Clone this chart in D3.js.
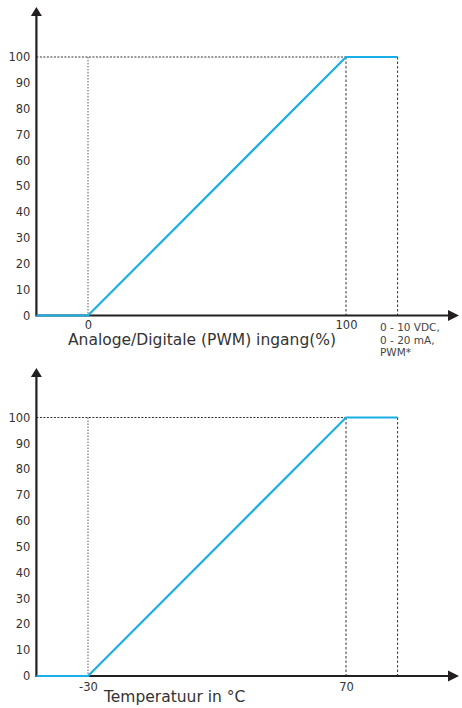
<!DOCTYPE html>
<html><head><meta charset="utf-8">
<script src="https://cdn.jsdelivr.net/npm/d3@7"></script>
<style>
html,body{margin:0;padding:0;background:#fff;}
svg{display:block;font-family:"DejaVu Sans",Verdana,sans-serif;}
</style></head>
<body>
<svg id="chart" width="462" height="708"></svg>
<script>
// ---- data ----
const yTicks = [0,10,20,30,40,50,60,70,80,90,100];
const inputX = [-20, 0, 100, 120];
const inputY = [0, 0, 100, 100];
const inputTicks = [0, 100];
const inputTitle = "Analoge/Digitale (PWM) ingang(%)";
const inputNote = ["0 - 10 VDC,", "0 - 20 mA,", "PWM*"];
const tempX = [-50, -30, 70, 90];
const tempY = [0, 0, 100, 100];
const tempTicks = [-30, 70];
const tempTitle = "Temperatuur in °C";

const svg = d3.select("#chart");
const axisColor = "#231f20";
const blue = "#1aaee6";
const FONT = '"DejaVu Sans",Verdana,sans-serif';

function panel(cfg){
  const g = svg.append("g");
  const x = d3.scaleLinear().domain(cfg.xDomain).range([88, 346]);
  const y = d3.scaleLinear().domain([0,100]).range([cfg.y0, cfg.y0 - 258.5]);
  const xs = cfg.xs, ys = cfg.ys;
  const xMin = x(xs[0]), xEnd = x(xs[xs.length-1]);

  // guide lines
  g.append("line").attr("x1", x(xs[1])).attr("x2", x(xs[1]))
    .attr("y1", y(100)).attr("y2", y(0))
    .attr("stroke", "#777").attr("stroke-width", 1.2).attr("stroke-dasharray", "1.5,1.5");
  g.append("line").attr("x1", xMin).attr("x2", xEnd)
    .attr("y1", y(100)).attr("y2", y(100))
    .attr("stroke", "#333").attr("stroke-width", 1).attr("stroke-dasharray", "2,1.5");
  [xs[2], xs[3]].forEach(v=>{
    g.append("line").attr("x1", x(v)).attr("x2", x(v))
      .attr("y1", y(100)).attr("y2", y(0))
      .attr("stroke", "#333").attr("stroke-width", 1).attr("stroke-dasharray", "2.5,2");
  });

  // axes lines with arrows
  g.append("line").attr("x1", xMin).attr("x2", 450).attr("y1", y(0)).attr("y2", y(0))
    .attr("stroke", axisColor).attr("stroke-width", 2.2);
  g.append("path").attr("d", `M${459},${y(0)} L${448},${y(0)-5.5} L${448},${y(0)+5.5} Z`).attr("fill", axisColor);
  g.append("line").attr("x1", xMin).attr("x2", xMin).attr("y1", y(0)+1).attr("y2", cfg.arrowTop+6)
    .attr("stroke", axisColor).attr("stroke-width", 2.2);
  g.append("path").attr("d", `M${xMin},${cfg.arrowTop} L${xMin-5.5},${cfg.arrowTop+9} L${xMin+5.5},${cfg.arrowTop+9} Z`).attr("fill", axisColor);

  // y tick labels
  const ya = g.append("g").attr("transform", `translate(${xMin},0)`)
    .call(d3.axisLeft(y).tickValues(yTicks).tickSize(0).tickPadding(6).tickFormat(d=>String(d)));
  ya.select(".domain").remove();
  ya.selectAll("text").attr("font-size", 11.5).attr("fill", "#333").style("font-family", FONT);

  // x tick labels
  const xa = g.append("g").attr("transform", `translate(0,${y(0)})`)
    .call(d3.axisBottom(x).tickValues(cfg.ticks).tickSize(0).tickPadding(cfg.tickPad).tickFormat(d=>String(d)));
  xa.select(".domain").remove();
  xa.selectAll("text").attr("font-size", 11.5).attr("fill", "#333").style("font-family", FONT);

  // data line
  const line = d3.line().x((d,i)=>x(xs[i])).y((d,i)=>y(ys[i]));
  g.append("path").datum(xs).attr("d", line)
    .attr("fill", "none").attr("stroke", blue).attr("stroke-width", 2.2);

  // title
  g.append("text").attr("x", cfg.titleX).attr("y", cfg.titleY)
    .attr("font-size", 15.5).attr("fill", "#333").text(cfg.title);
  return {x, y};
}

panel({xDomain:[0,100], xs:inputX, ys:inputY, y0:315.5, arrowTop:7, ticks:inputTicks, tickPad:5,
       title:inputTitle, titleX:68, titleY:345});
panel({xDomain:[-30,70], xs:tempX, ys:tempY, y0:676, arrowTop:368, ticks:tempTicks, tickPad:7,
       title:tempTitle, titleX:104, titleY:702});

svg.append("g").selectAll("text").data(inputNote).join("text")
  .attr("x", 380).attr("y", (d,i)=>331 + i*12.5)
  .attr("font-size", 10.5).attr("fill", "#444").text(d=>d);
</script>
</body></html>
